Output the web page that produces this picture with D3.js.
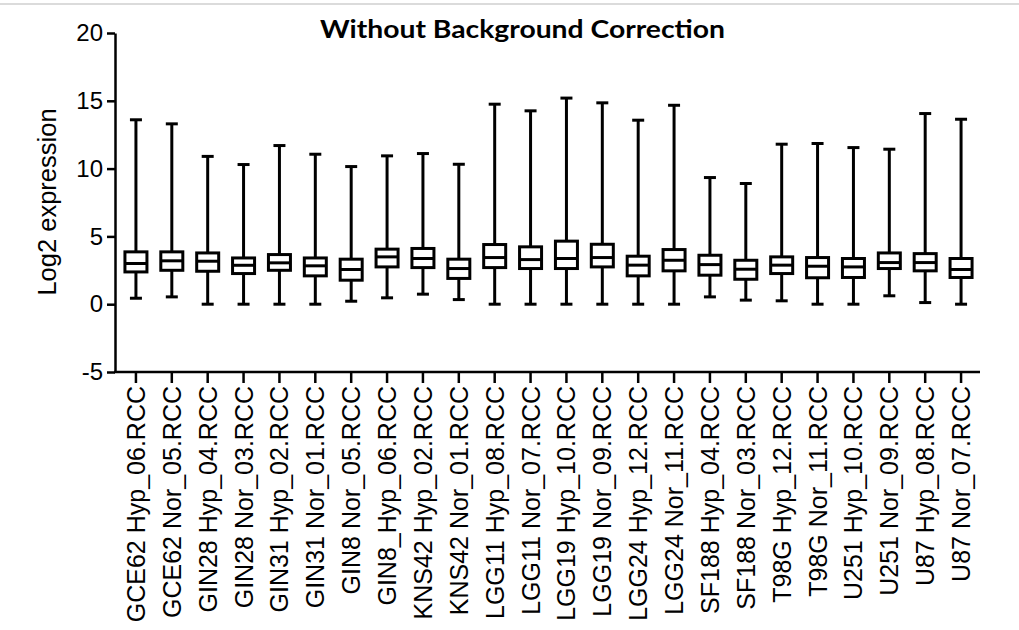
<!DOCTYPE html>
<html>
<head>
<meta charset="utf-8">
<script src="https://cdn.jsdelivr.net/npm/d3@7"></script>
<style>
  body { margin: 0; background: #fff; }
  svg { display: block; }
</style>
</head>
<body>
<script>
// Proben (Reihenfolge wie in der Abbildung)
const samples = [
  "GCE62 Hyp_06.RCC", "GCE62 Nor_05.RCC", "GIN28 Hyp_04.RCC", "GIN28 Nor_03.RCC",
  "GIN31 Hyp_02.RCC", "GIN31 Nor_01.RCC", "GIN8 Nor_05.RCC", "GIN8_Hyp_06.RCC",
  "KNS42 Hyp_02.RCC", "KNS42 Nor_01.RCC", "LGG11 Hyp_08.RCC", "LGG11 Nor_07.RCC",
  "LGG19 Hyp_10.RCC", "LGG19 Nor_09.RCC", "LGG24 Hyp_12.RCC", "LGG24 Nor_11.RCC",
  "SF188 Hyp_04.RCC", "SF188 Nor_03.RCC", "T98G Hyp_12.RCC", "T98G Nor_11.RCC",
  "U251 Hyp_10.RCC", "U251 Nor_09.RCC", "U87 Hyp_08.RCC", "U87 Nor_07.RCC"
];

// Boxplot-Werte
const whiskerMin = [0.44, 0.54, 0, 0, 0, 0, 0.22, 0.47, 0.74, 0.34, 0, 0,
                    0, 0, 0, 0, 0.54, 0.3, 0.25, 0, 0, 0.62, 0.12, 0];
const q1 = [2.38, 2.5, 2.43, 2.26, 2.5, 2.09, 1.77, 2.75, 2.7, 1.9, 2.7, 2.63,
            2.63, 2.75, 2.09, 2.46, 2.14, 1.84, 2.26, 1.95, 1.97, 2.63, 2.46, 1.97];
const median = [3.0, 3.2, 3.17, 2.87, 3.05, 2.83, 2.56, 3.49, 3.37, 2.63, 3.44, 3.29,
                3.37, 3.44, 2.88, 3.24, 2.92, 2.58, 2.88, 2.8, 2.75, 3.07, 3.07, 2.56];
const q3 = [3.86, 3.86, 3.78, 3.41, 3.66, 3.41, 3.32, 4.06, 4.11, 3.32, 4.4, 4.23,
            4.65, 4.42, 3.54, 4.03, 3.61, 3.24, 3.49, 3.44, 3.37, 3.78, 3.73, 3.37];
const whiskerMax = [13.6, 13.3, 10.9, 10.3, 11.7, 11.06, 10.15, 10.94, 11.11, 10.32, 14.75, 14.26,
                    15.2, 14.85, 13.57, 14.67, 9.34, 8.9, 11.8, 11.85, 11.55, 11.43, 14.06, 13.64];

const yTicks = [-5, 0, 5, 10, 15, 20];

const width = 1019;
const height = 630;

const svg = d3.select("body").append("svg")
  .attr("width", width)
  .attr("height", height);

// graue Linie oben
svg.append("line")
  .attr("x1", 0).attr("x2", width)
  .attr("y1", 4).attr("y2", 4)
  .attr("stroke", "#cfcfcf")
  .attr("stroke-width", 1.5);

const x = d3.scaleBand().domain(samples).range([118, 979]).padding(0);
const y = d3.scaleLinear().domain([-5, 20]).range([372, 33]);

let data = samples.map((s, i) => ({
  name: s,
  min: whiskerMin[i],
  q1: q1[i],
  med: median[i],
  q3: q3[i],
  max: whiskerMax[i]
}));

// Titel
svg.append("text")
  .attr("x", 320)
  .attr("y", 38)
  .attr("textLength", 405)
  .attr("lengthAdjust", "spacingAndGlyphs")
  .style("font-family", "Lato, 'Open Sans', sans-serif")
  .style("font-weight", "bold")
  .style("font-size", "25px")
  .text("Without Background Correction");

// Y-Achse
let yAxis = svg.append("g")
  .attr("transform", "translate(115,0)")
  .call(d3.axisLeft(y).tickValues(yTicks).tickFormat((d) => String(d))
    .tickSize(8).tickPadding(4).tickSizeOuter(0));

yAxis.select(".domain").attr("stroke-width", 2.5);
yAxis.selectAll(".tick line").attr("stroke-width", 2.5);
yAxis.selectAll(".tick text")
  .style("font-family", "'Liberation Sans', Arial, sans-serif")
  .style("font-size", "24px")
  .attr("fill", "#000");

// X-Achse
let xAxis = svg.append("g")
  .attr("transform", "translate(0,372)")
  .call(d3.axisBottom(x).tickSize(11).tickSizeOuter(0));

xAxis.select(".domain")
  .attr("d", "M114,0H980")
  .attr("stroke-width", 2.5);
xAxis.selectAll(".tick line").attr("stroke-width", 2.5);
xAxis.selectAll(".tick text")
  .attr("transform", "rotate(-90)")
  .attr("x", -14)
  .attr("y", 0)
  .attr("dy", "0.36em")
  .attr("text-anchor", "end")
  .style("font-family", "'Liberation Sans', Arial, sans-serif")
  .style("font-size", "25px")
  .attr("fill", "#000");

// Achsentitel
svg.append("text")
  .attr("transform", "translate(56,202) rotate(-90)")
  .attr("text-anchor", "middle")
  .style("font-family", "'Liberation Sans', Arial, sans-serif")
  .style("font-size", "25.5px")
  .text("Log2 expression");

// Boxplots
let boxW = 22;
let capW = 12;

let boxes = svg.selectAll(".box")
  .data(data)
  .enter()
  .append("g")
  .attr("class", "box")
  .attr("transform", (d) => "translate(" + (x(d.name) + x.bandwidth() / 2) + ",0)")
  .attr("stroke", "#000")
  .attr("stroke-width", 3)
  .attr("fill", "none");

// Whisker
boxes.append("line")
  .attr("x1", 0).attr("x2", 0)
  .attr("y1", (d) => y(d.max)).attr("y2", (d) => y(d.q3));
boxes.append("line")
  .attr("x1", 0).attr("x2", 0)
  .attr("y1", (d) => y(d.q1)).attr("y2", (d) => y(d.min));

// Kappen
boxes.append("line")
  .attr("x1", -capW / 2).attr("x2", capW / 2)
  .attr("y1", (d) => y(d.max)).attr("y2", (d) => y(d.max));
boxes.append("line")
  .attr("x1", -capW / 2).attr("x2", capW / 2)
  .attr("y1", (d) => y(d.min)).attr("y2", (d) => y(d.min));

// Box
boxes.append("rect")
  .attr("x", -boxW / 2)
  .attr("width", boxW)
  .attr("y", (d) => y(d.q3))
  .attr("height", (d) => y(d.q1) - y(d.q3))
  .attr("fill", "#fff");

// Median
boxes.append("line")
  .attr("x1", -boxW / 2).attr("x2", boxW / 2)
  .attr("y1", (d) => y(d.med)).attr("y2", (d) => y(d.med));
</script>
</body>
</html>
